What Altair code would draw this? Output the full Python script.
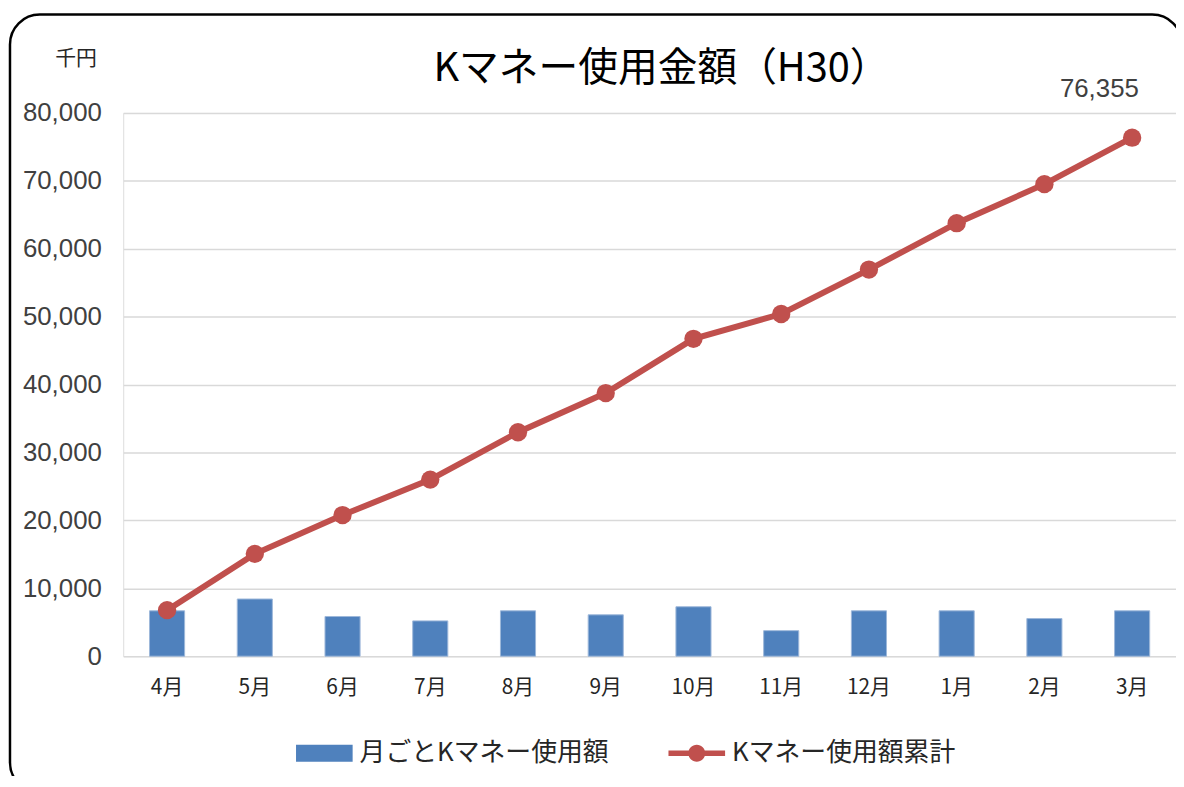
import altair as alt
import pandas as pd

months = ["4月", "5月", "6月", "7月", "8月", "9月", "10月", "11月", "12月", "1月", "2月", "3月"]
monthly = [6680, 8420, 5840, 5200, 6680, 6090, 7280, 3760, 6680, 6680, 5540, 6680]
cumulative = [6780, 15070, 20780, 26000, 32980, 38750, 46730, 50390, 56930, 63760, 69510, 76355]
series_names = ["月ごとKマネー使用額", "Kマネー使用額累計"]
y_ticks = [0, 10000, 20000, 30000, 40000, 50000, 60000, 70000, 80000]
title_text = "Kマネー使用金額（H30）"
unit_text = "千円"

BLUE = "#4F81BD"
RED = "#C0504D"
JP = "Noto Sans CJK JP"
NUM = "Liberation Sans"

df = pd.DataFrame({"month": months, "monthly": monthly, "cumulative": cumulative})
legend_df = pd.DataFrame({"series": series_names})
frame_df = pd.DataFrame({"k": [0]})

x_enc = alt.X(
    "month:N",
    sort=months,
    scale=alt.Scale(paddingInner=0.6, paddingOuter=0.3),
    axis=alt.Axis(title=None, labelAngle=0, ticks=False, domain=False, grid=False,
                  labelFont=JP, labelFontSize=21, labelColor="#262626", labelPadding=21),
)
y_axis = alt.Axis(
    values=y_ticks, format=",d", title=unit_text, titleAngle=0, titleX=-48, titleY=-55,
    titleAlign="center", titleBaseline="middle", titleFont=JP, titleFontSize=21,
    titleFontWeight="normal", titleColor="#262626",
    labelFont=NUM, labelFontSize=26, labelColor="#404040", labelPadding=22,
    ticks=False, domain=False, gridColor="#D9D9D9", gridWidth=1.5,
)
y_scale = alt.Scale(domain=[0, 80000], nice=False)

bars = alt.Chart(df).mark_bar(color=BLUE, stroke="#9DB7DA", strokeWidth=1).encode(
    x=x_enc,
    y=alt.Y("monthly:Q", scale=y_scale, axis=y_axis),
)

line = alt.Chart(df).mark_line(color=RED, strokeWidth=6).encode(
    x=x_enc,
    y=alt.Y("cumulative:Q", scale=y_scale, axis=y_axis),
)
pts = alt.Chart(df).mark_circle(color=RED, size=340, opacity=1).encode(
    x=x_enc,
    y=alt.Y("cumulative:Q", scale=y_scale, axis=y_axis),
)

label = alt.Chart(df).transform_filter(alt.datum.month == months[-1]).mark_text(
    dx=-33, dy=-49, font=NUM, fontSize=26, color="#404040", baseline="middle"
).encode(
    x=x_enc,
    y=alt.Y("cumulative:Q", scale=y_scale, axis=y_axis),
    text=alt.Text("cumulative:Q", format=","),
)

rect_path = "M-1,-0.3H1V0.3H-1Z"
line_path = ("M-1,-0.1H1V0.1H-1Z "
             "M0.3,0A0.3,0.3,0,1,1,-0.3,0A0.3,0.3,0,1,1,0.3,0Z")

leg = alt.Legend(
    title=None, orient="none", direction="horizontal", legendX=174, legendY=616,
    labelFont=JP, labelFontSize=26, labelColor="#262626", labelLimit=0,
    symbolSize=3249, symbolStrokeWidth=0, symbolOpacity=1, labelOffset=7, columnPadding=60,
)
legend_layer = alt.Chart(legend_df).transform_filter("false").mark_point(filled=True, opacity=1).encode(
    color=alt.Color("series:N", scale=alt.Scale(domain=series_names, range=[BLUE, RED]), legend=leg),
    shape=alt.Shape("series:N", scale=alt.Scale(domain=series_names, range=[rect_path, line_path]), legend=leg),
)

frame = alt.Chart(frame_df).mark_rect(
    fill="transparent", stroke="black", strokeWidth=2.5, cornerRadius=30
).encode(
    x=alt.value(-114), x2=alt.value(1066), y=alt.value(-99), y2=alt.value(684)
)

chart = alt.layer(bars, line, pts, label, legend_layer, frame).properties(
    width=1060,
    height=547,
    title=alt.TitleParams(title_text, font=JP, fontSize=40, fontWeight="normal",
                          color="black", anchor="middle", offset=18, dy=94, dx=12),
    autosize=alt.AutoSizeParams(type="none"),
    padding={"left": 116, "top": 103, "right": 0, "bottom": 118},
).configure_view(strokeWidth=0).configure(background="white")

chart.save("out.html", embed_options={"renderer": "svg", "actions": False})
